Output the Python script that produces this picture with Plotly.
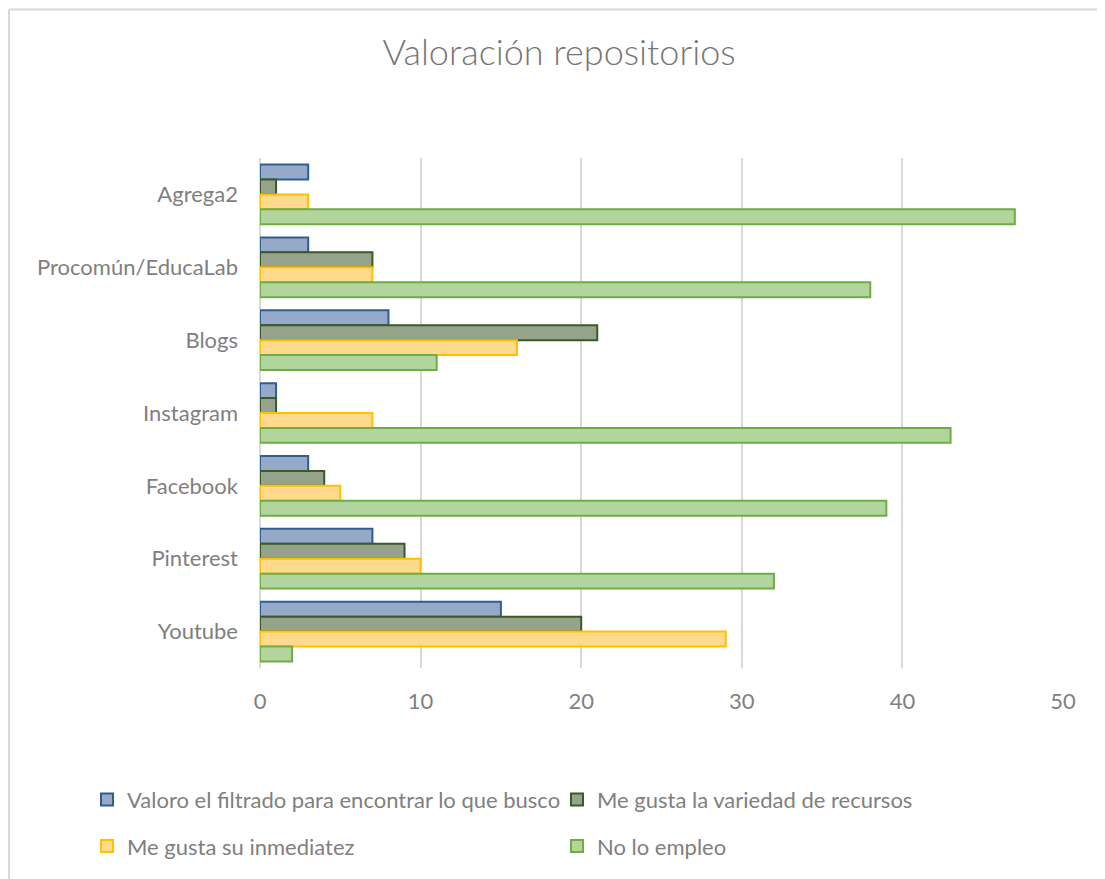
import plotly.graph_objects as go

categories = ["Agrega2", "Procomún/EducaLab", "Blogs", "Instagram", "Facebook", "Pinterest", "Youtube"]
series_names = [
    "Valoro el filtrado para encontrar lo que busco",
    "Me gusta la variedad de recursos",
    "Me gusta su inmediatez",
    "No lo empleo",
]
valoro_filtrado = [3, 3, 8, 1, 3, 7, 15]
variedad_recursos = [1, 7, 21, 1, 4, 9, 20]
inmediatez = [3, 7, 16, 7, 5, 10, 29]
no_lo_empleo = [47, 38, 11, 43, 39, 32, 2]
x_ticks = [0, 10, 20, 30, 40, 50]

series_values = [valoro_filtrado, variedad_recursos, inmediatez, no_lo_empleo]
fills = ["#97A9C8", "#94A38A", "#FFD98C", "#B2D59D"]
borders = ["#2F5F91", "#3B5A27", "#FFC000", "#6FAC46"]
legends = ["legend", "legend", "legend2", "legend2"]

FONT = "Lato"
GRAY = "#7F7F7F"

# page body has an 8px margin; figure coordinates are page coordinates minus 8
W, H = 1097, 871
L, R, T, B = 252, 1055, 150, 665
PW, PH = R - L, B - T


def px_x(page_x):
    return (page_x - 8 - L) / PW


def px_y(page_y):
    return (B - (page_y - 8)) / PH


fig = go.Figure()
for name, vals, fc, bc, lg in zip(series_names, series_values, fills, borders, legends):
    fig.add_trace(go.Bar(
        y=categories, x=vals, name=name, orientation="h",
        marker=dict(color=fc, line=dict(color=bc, width=2)),
        legend=lg,
    ))

legend_common = dict(orientation="h", xanchor="left", yanchor="middle",
                     entrywidth=425, entrywidthmode="pixels",
                     font=dict(size=22, color=GRAY), bgcolor="rgba(0,0,0,0)",
                     itemclick=False, itemdoubleclick=False)

fig.update_layout(
    width=W, height=H,
    paper_bgcolor="white", plot_bgcolor="white",
    margin=dict(l=L, r=W - R, t=T, b=H - B),
    barmode="group", bargap=0.18, bargroupgap=0,
    font=dict(family=FONT, color=GRAY, size=22),
    title=dict(text="Valoración repositorios", x=(559 - 8) / W, xref="container", xanchor="center",
               y=1 - (52 - 8) / H, yref="container", yanchor="middle",
               font=dict(family=FONT, size=36, color="#767676", weight=300)),
    xaxis=dict(range=[0, 50], tickvals=x_ticks, showgrid=True, gridcolor="#D9D9D9", gridwidth=2,
               zeroline=True, zerolinecolor="#D9D9D9", zerolinewidth=2,
               ticklabelstandoff=18, tickfont=dict(size=22, color=GRAY), fixedrange=True),
    yaxis=dict(autorange="reversed", showgrid=False, ticklabelstandoff=21,
               tickfont=dict(size=22, color=GRAY), fixedrange=True),
    legend=dict(x=px_x(87), y=px_y(806), **legend_common),
    legend2=dict(x=px_x(87), y=px_y(853), **legend_common),
    showlegend=True,
    shapes=[
        dict(type="line", xref="paper", yref="paper", x0=px_x(9), x1=px_x(1110),
             y0=px_y(8), y1=px_y(8), line=dict(color="#D9D9D9", width=2)),
        dict(type="line", xref="paper", yref="paper", x0=px_x(9), x1=px_x(9),
             y0=px_y(8), y1=px_y(900), line=dict(color="#D9D9D9", width=2)),
    ],
)

fig.write_html("out.html")
